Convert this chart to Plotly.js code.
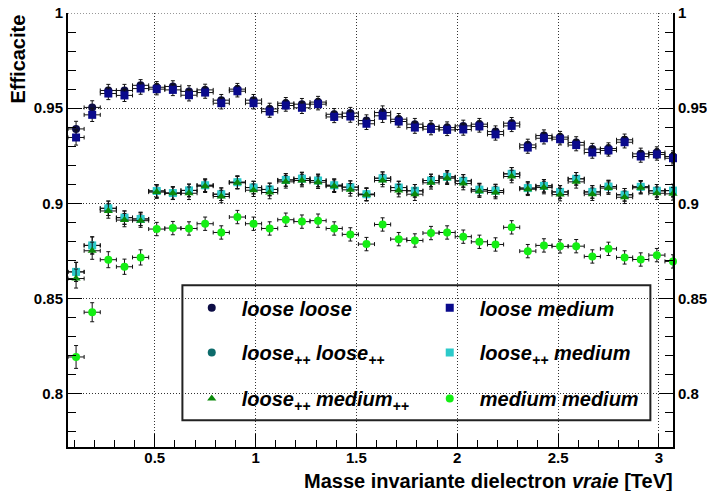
<!DOCTYPE html>
<html><head><meta charset="utf-8">
<script src="https://cdn.plot.ly/plotly-3.0.1.min.js"></script>
<style>html,body{margin:0;padding:0;background:#fff;} #chart{width:707px;height:491px;}</style>
</head><body><div id="chart"></div>
<script>
// Bin centres (TeV)
const massTeV = [0.11,0.19,0.27,0.35,0.43,0.51,0.59,0.67,0.75,0.83,0.91,0.99,1.07,1.15,1.23,1.31,1.39,1.47,1.55,1.63,1.71,1.79,1.87,1.95,2.03,2.11,2.19,2.27,2.35,2.43,2.51,2.59,2.67,2.75,2.83,2.91,2.99,3.07];
const binHalfWidth = 0.04;

const effLooseLoose = [0.9391,0.9504,0.9593,0.9593,0.9620,0.9610,0.9614,0.9588,0.9596,0.9542,0.9600,0.9542,0.9496,0.9526,0.9521,0.9532,0.9468,0.9474,0.9435,0.9477,0.9442,0.9416,0.9404,0.9398,0.9407,0.9416,0.9377,0.9421,0.9307,0.9356,0.9348,0.9320,0.9285,0.9288,0.9334,0.9260,0.9267,0.9246];
const effLooseMedium = [0.9346,0.9465,0.9577,0.9567,0.9603,0.9600,0.9596,0.9568,0.9582,0.9526,0.9589,0.9526,0.9482,0.9514,0.9502,0.9521,0.9454,0.9456,0.9418,0.9460,0.9430,0.9398,0.9390,0.9386,0.9388,0.9404,0.9362,0.9407,0.9293,0.9342,0.9337,0.9306,0.9267,0.9278,0.9321,0.9246,0.9257,0.9237];
const effLooseppLoosepp = [0.8640,0.8779,0.8974,0.8925,0.8918,0.9065,0.9054,0.9068,0.9095,0.9048,0.9111,0.9083,0.9073,0.9123,0.9130,0.9120,0.9095,0.9085,0.9048,0.9132,0.9083,0.9066,0.9120,0.9139,0.9118,0.9072,0.9067,0.9155,0.9080,0.9092,0.9060,0.9129,0.9060,0.9088,0.9045,0.9087,0.9066,0.9067];
const effLooseppMedium = [0.8640,0.8779,0.8974,0.8925,0.8918,0.9065,0.9054,0.9068,0.9095,0.9048,0.9111,0.9083,0.9073,0.9123,0.9130,0.9120,0.9095,0.9085,0.9048,0.9132,0.9083,0.9066,0.9120,0.9139,0.9118,0.9072,0.9067,0.9155,0.9080,0.9092,0.9060,0.9129,0.9060,0.9088,0.9045,0.9087,0.9066,0.9067];
const effLooseppMediumpp = [0.8605,0.8751,0.8960,0.8912,0.8909,0.9059,0.9053,0.9053,0.9090,0.9036,0.9108,0.9069,0.9057,0.9113,0.9120,0.9111,0.9090,0.9071,0.9045,0.9120,0.9067,0.9048,0.9108,0.9132,0.9104,0.9064,0.9057,0.9141,0.9074,0.9083,0.9046,0.9113,0.9048,0.9080,0.9032,0.9082,0.9053,0.9050];
const effMediumMedium = [0.8193,0.8428,0.8704,0.8667,0.8716,0.8865,0.8870,0.8868,0.8893,0.8847,0.8928,0.8893,0.8868,0.8914,0.8904,0.8909,0.8868,0.8837,0.8786,0.8889,0.8812,0.8805,0.8844,0.8847,0.8825,0.8798,0.8784,0.8874,0.8749,0.8779,0.8774,0.8775,0.8721,0.8761,0.8716,0.8705,0.8728,0.8695];

const errLoose = [0.0040,0.0035,0.0032,0.0032,0.0030,0.0030,0.0030,0.0030,0.0030,0.0030,0.0030,0.0030,0.0030,0.0030,0.0030,0.0030,0.0030,0.0030,0.0030,0.0035,0.0030,0.0030,0.0030,0.0030,0.0030,0.0030,0.0030,0.0030,0.0030,0.0030,0.0030,0.0030,0.0030,0.0030,0.0030,0.0030,0.0030,0.0030];
const errLoosepp = [0.0050,0.0045,0.0038,0.0035,0.0035,0.0033,0.0033,0.0033,0.0033,0.0033,0.0033,0.0033,0.0033,0.0033,0.0033,0.0033,0.0033,0.0033,0.0033,0.0033,0.0033,0.0033,0.0033,0.0033,0.0033,0.0033,0.0033,0.0033,0.0033,0.0033,0.0033,0.0033,0.0033,0.0033,0.0033,0.0033,0.0033,0.0033];
const errMedium = [0.0060,0.0050,0.0042,0.0040,0.0040,0.0035,0.0035,0.0035,0.0035,0.0035,0.0035,0.0035,0.0035,0.0035,0.0035,0.0035,0.0035,0.0035,0.0035,0.0035,0.0035,0.0035,0.0035,0.0035,0.0035,0.0035,0.0035,0.0035,0.0035,0.0035,0.0035,0.0035,0.0035,0.0035,0.0035,0.0035,0.0035,0.0035];

const seriesNames = ['loose loose','loose medium','loose<sub>++</sub> loose<sub>++</sub>','loose<sub>++</sub> medium','loose<sub>++</sub> medium<sub>++</sub>','medium medium'];
const yTicks = [0.8,0.85,0.9,0.95,1];
const yTickText = ['0.8','0.85','0.9','0.95','1'];
const xTicks = [0.5,1,1.5,2,2.5,3];
const xTickText = ['0.5','1','1.5','2','2.5','3'];

const FONT = 'Liberation Sans, Arial, Helvetica, sans-serif';
const bold = s => '<b>' + s + '</b>';

function series(name, y, err, color, symbol, size, legendId, yaxisId) {
  return {
    type:'scatter', mode:'markers', name:'<b><i>'+name+'</i></b>', x:massTeV, y:y,
    yaxis:yaxisId,
    marker:{color:color, symbol:symbol, size:size, line:{width:0}},
    error_y:{type:'data', array:err, visible:true, color:'#111', thickness:1, width:2},
    error_x:{type:'constant', value:binHalfWidth, visible:true, color:'#111', thickness:1, width:2},
    legend:legendId, cliponaxis:false
  };
}

const data = [
  series(seriesNames[0], effLooseLoose, errLoose, '#0d0d45', 'circle', 8, 'legend', 'y'),
  series(seriesNames[1], effLooseMedium, errLoose, '#0a0a8c', 'square', 8, 'legend', 'y'),
  series(seriesNames[2], effLooseppLoosepp, errLoosepp, '#0d6b6b', 'circle', 8, 'legend2', 'y'),
  series(seriesNames[3], effLooseppMedium, errLoosepp, '#2ccaca', 'square', 8, 'legend2', 'y'),
  series(seriesNames[4], effLooseppMediumpp, errLoosepp, '#0a8a0a', 'triangle-up', 8, 'legend3', 'y'),
  series(seriesNames[5], effMediumMedium, errMedium, '#14ee14', 'circle', 8, 'legend3', 'y2')
];

const legBase = {
  orientation:'h', x:0.188, xanchor:'left', yanchor:'middle',
  bgcolor:'rgba(0,0,0,0)', borderwidth:0,
  font:{family:FONT, size:20, color:'#000'},
  itemwidth:50, entrywidth:173, entrywidthmode:'pixels',
  itemclick:false, itemdoubleclick:false
};

const tickFont = {family:FONT, size:15, color:'#000'};
const axisCommon = {
  showline:true, linewidth:2, linecolor:'#000', zeroline:false,
  ticks:'inside', tickcolor:'#000', tickwidth:1, tickfont:tickFont
};

const layout = {
  width:707, height:491,
  margin:{l:68, r:34, t:13, b:44, pad:0},
  paper_bgcolor:'#fff', plot_bgcolor:'#fff',
  showlegend:true,
  xaxis:Object.assign({}, axisCommon, {
    range:[0.07,3.07], tickmode:'array', tickvals:xTicks, ticktext:xTickText.map(bold), ticklen:13,
    ticklabelstandoff:-4,
    showgrid:true, gridcolor:'#333', griddash:'1px,2px', gridwidth:1,
    minor:{dtick:0.1, tick0:0, ticks:'inside', ticklen:7, tickcolor:'#000', showgrid:false}
  }),
  yaxis:Object.assign({}, axisCommon, {
    range:[0.772,1.0], tickmode:'array', tickvals:yTicks, ticktext:yTickText.map(bold), ticklen:14,
    showgrid:true, gridcolor:'#333', griddash:'1px,2px', gridwidth:1,
    minor:{dtick:0.01, tick0:0, ticks:'inside', ticklen:8, tickcolor:'#000', showgrid:false}
  }),
  yaxis2:Object.assign({}, axisCommon, {
    range:[0.772,1.0], overlaying:'y', side:'right', anchor:'x',
    tickmode:'array', tickvals:yTicks, ticktext:yTickText.map(bold), ticklen:14, showgrid:false,
    minor:{dtick:0.01, tick0:0, ticks:'inside', ticklen:8, tickcolor:'#000', showgrid:false}
  }),
  legend:Object.assign({}, legBase, {y:0.3207}),
  legend2:Object.assign({}, legBase, {y:0.2175}),
  legend3:Object.assign({}, legBase, {y:0.1115}),
  shapes:[
    {type:'rect', xref:'paper', yref:'paper', x0:0.1891, x1:0.9626, y0:0.0615, y1:0.3726,
     line:{color:'#222', width:2}, fillcolor:'rgba(0,0,0,0)'},
    {type:'line', xref:'paper', yref:'y', x0:0, x1:1, y0:1, y1:1,
     line:{color:'#333', width:1, dash:'1px,2px'}}
  ],
  annotations:[
    {text:'<b>Efficacite</b>', xref:'paper', yref:'paper', x:-0.083, y:1.0016,
     xanchor:'center', yanchor:'top', textangle:-90, showarrow:false,
     font:{family:FONT, size:20, color:'#000'}},
    {text:'<b>Masse invariante dielectron <i>vraie</i> [TeV]</b>', xref:'paper', yref:'paper',
     x:1.004, y:-0.079, xanchor:'right', yanchor:'middle', showarrow:false,
     font:{family:FONT, size:20, color:'#000'}}
  ]
};

Plotly.newPlot('chart', data, layout, {displayModeBar:false, staticPlot:true});
</script>
</body></html>
